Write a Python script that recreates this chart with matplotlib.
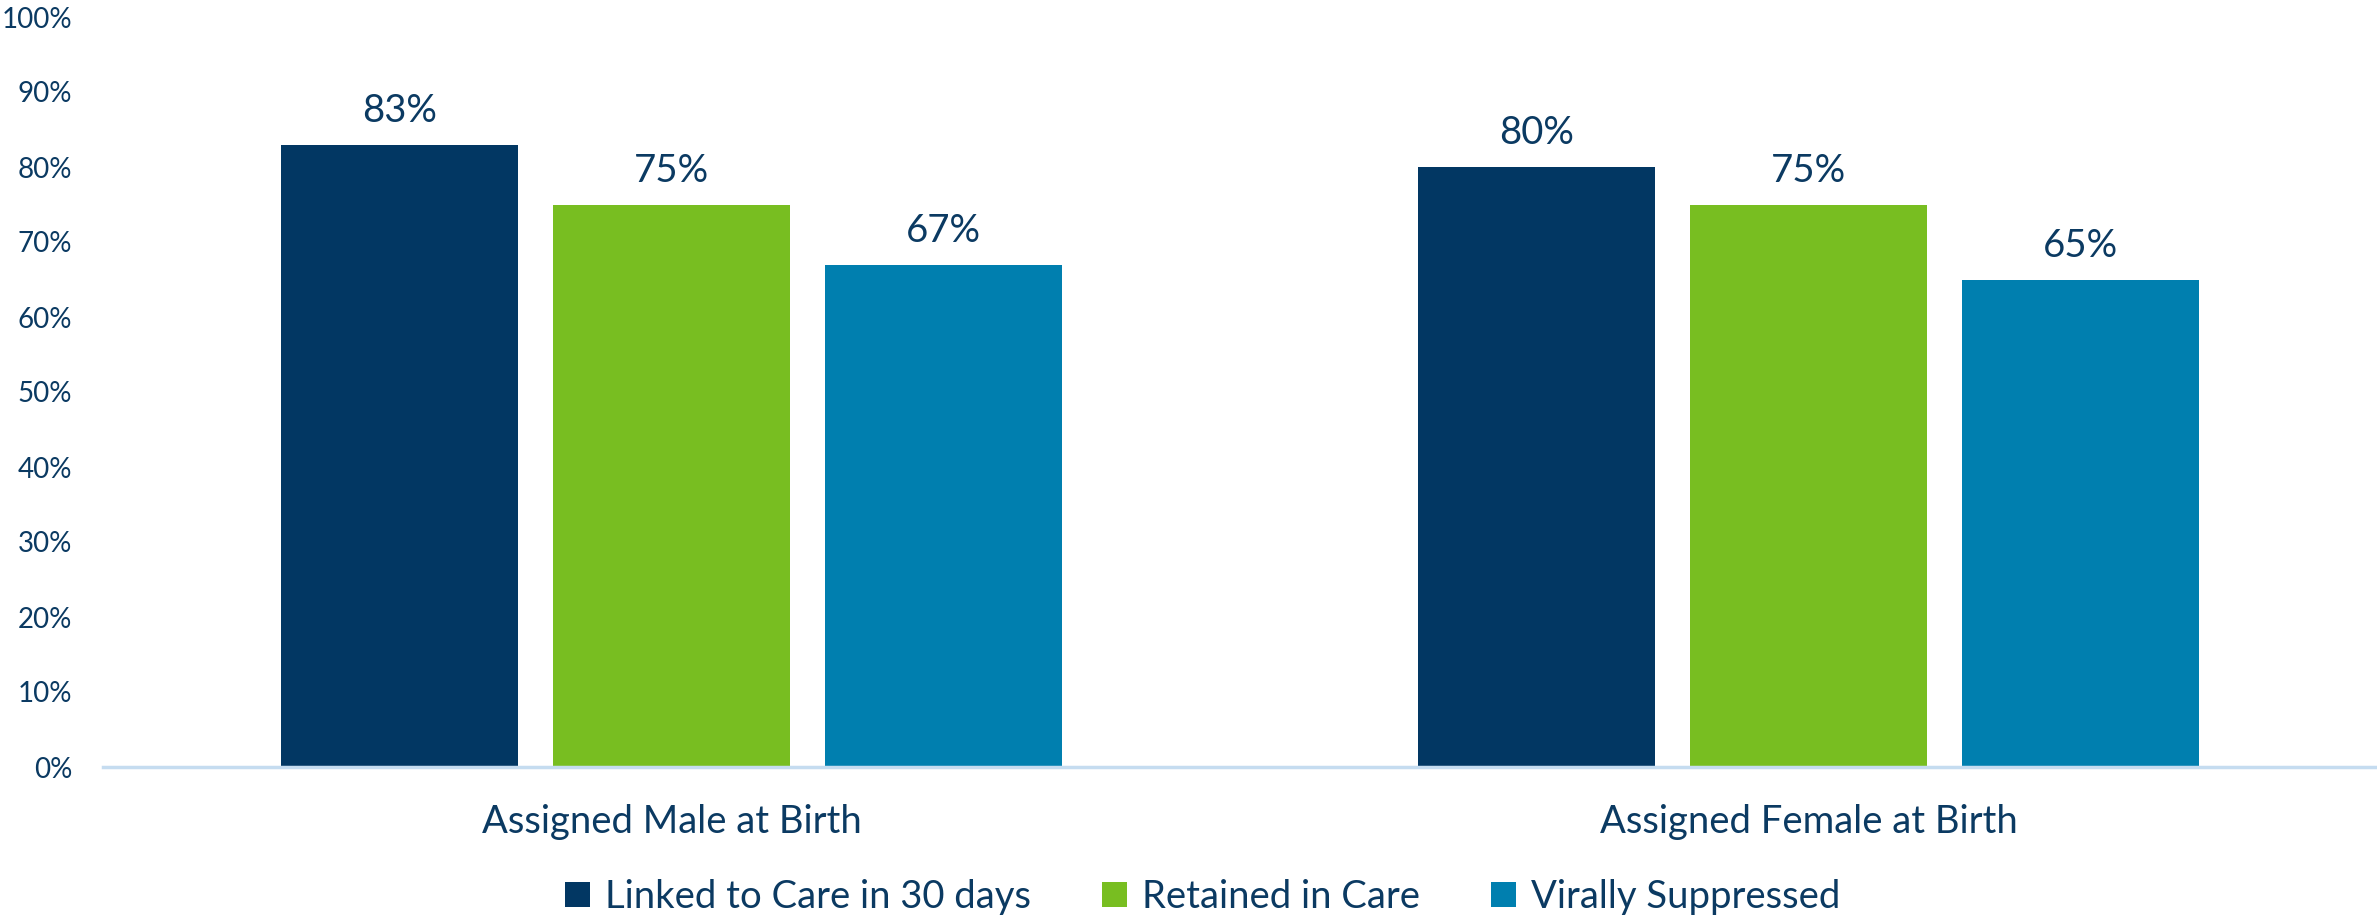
import matplotlib
matplotlib.use("Agg")
import matplotlib.pyplot as plt
import numpy as np

# data
categories = ["Assigned Male at Birth", "Assigned Female at Birth"]
series_names = ["Linked to Care in 30 days", "Retained in Care", "Virally Suppressed"]
linked = [83, 80]
retained = [75, 75]
suppressed = [67, 65]
yticks = [0, 10, 20, 30, 40, 50, 60, 70, 80, 90, 100]

colors = ["#023763", "#78BE21", "#007FAF"]
text_color = "#0B3A62"

plt.rcParams["font.family"] = ["Lato", "DejaVu Sans"]

W, H = 2377, 919
fig = plt.figure(figsize=(W / 100, H / 100), dpi=100)
ax = fig.add_axes([103 / W, (H - 767) / H, (W - 103) / W, (767 - 17) / H])

x = np.arange(len(categories))
step = 0.239
width = 0.2085
for i, (vals, name) in enumerate(zip([linked, retained, suppressed], series_names)):
    pos = x + (i - 1) * step
    ax.bar(pos, vals, width, color=colors[i], label=name, zorder=2)
    for xp, v in zip(pos, vals):
        ax.text(xp, v + 3.0, f"{v}%", ha="center", va="baseline",
                fontsize=27.5, color=text_color)

ax.set_xlim(-0.5, 1.5)
ax.set_ylim(0, 100)
ax.set_yticks(yticks)
ax.set_yticklabels([f"{t}%" for t in yticks])
ax.set_xticks(x)
ax.set_xticklabels(categories)

for s in ["top", "right", "left"]:
    ax.spines[s].set_visible(False)
ax.spines["bottom"].set_color("#C5DCF0")
ax.spines["bottom"].set_linewidth(2.5)
ax.spines["bottom"].set_zorder(3)

ax.tick_params(axis="y", length=0, pad=22, labelsize=20, labelcolor=text_color)
ax.tick_params(axis="x", length=0, pad=27, labelsize=27.5, labelcolor=text_color)

fig.legend(loc="center", bbox_to_anchor=(0.506, 1 - 897 / H), ncol=3, frameon=False,
           fontsize=27.5, labelcolor=text_color, handlelength=0.65, handleheight=0.65,
           handletextpad=0.4, columnspacing=1.85)

fig.savefig("out.png", dpi=100)
